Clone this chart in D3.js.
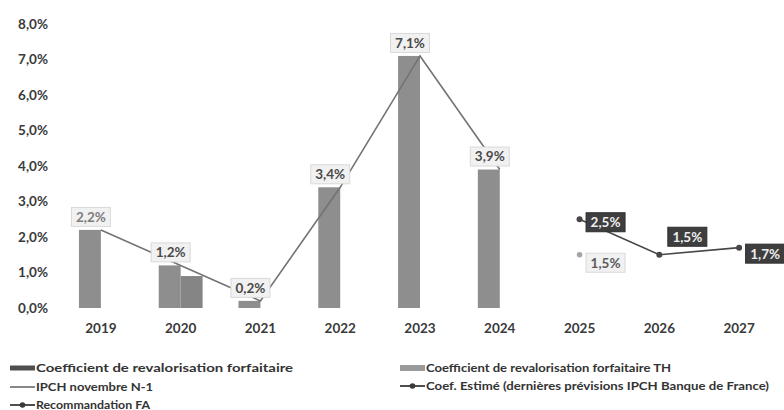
<!DOCTYPE html>
<html>
<head>
<meta charset="utf-8">
<script src="https://cdn.jsdelivr.net/npm/d3@7"></script>
<style>
  html, body { margin: 0; padding: 0; background: #fff; }
  svg { display: block; font-family: Lato, "Open Sans", sans-serif; }
</style>
</head>
<body>
<svg id="chart" width="784" height="410"></svg>
<script>
// Années affichées
const years = ["2019", "2020", "2021", "2022", "2023", "2024", "2025", "2026", "2027"];

// Coefficient de revalorisation forfaitaire (%)
const coefForfaitaire = [2.2, 1.2, 0.2, 3.4, 7.1, 3.9, null, null, null];
// Coefficient de revalorisation forfaitaire TH (%)
const coefTH = [null, 0.9, null, null, null, null, null, null, null];
// IPCH novembre N-1 (%)
const ipch = [2.2, 1.2, 0.2, 3.4, 7.1, 3.9, null, null, null];
// Coef. estimé (dernières prévisions IPCH Banque de France) (%)
const coefEstime = [null, null, null, null, null, null, 2.5, 1.5, 1.7];
// Recommandation FA (%)
const recoFA = [null, null, null, null, null, null, 1.5, null, null];

// Graduations de l'axe vertical (%)
const yTicks = [0, 1, 2, 3, 4, 5, 6, 7, 8];

const svg = d3.select("#chart");

const fr = d3.formatLocale({ decimal: ",", thousands: " ", grouping: [3], currency: ["", " €"] });
const pct = v => fr.format(".1f")(v) + "%";

const x = d3.scaleBand().domain(years).range([61, 779]).paddingInner(0.45).paddingOuter(0.225);
const xs = d3.scaleBand().domain(["forf", "th"]).range([0, x.bandwidth()]);
const y = d3.scaleLinear().domain([0, 8]).range([308, 24]);
const cx = yr => x(yr) + x.bandwidth() / 2;

// Axe vertical
const yAxis = svg.append("g")
  .attr("transform", "translate(52,0)")
  .call(d3.axisLeft(y).tickValues(yTicks).tickSize(0).tickPadding(4).tickFormat(pct));
yAxis.select(".domain").remove();
yAxis.selectAll("text")
  .attr("fill", "#3a3a3a").attr("font-size", 13.5).attr("font-weight", 700)
  .attr("font-family", "Lato, sans-serif");

// Axe horizontal
const xAxis = svg.append("g")
  .attr("transform", "translate(0,308)")
  .call(d3.axisBottom(x).tickSize(0).tickPadding(15));
xAxis.select(".domain").remove();
xAxis.selectAll(".tick").attr("transform", d => `translate(${cx(d)},0)`);
xAxis.selectAll("text")
  .attr("fill", "#3a3a3a").attr("font-size", 13.5).attr("font-weight", 700)
  .attr("font-family", "Lato, sans-serif");

// Barres
const barSeries = [
  { key: "forf", values: coefForfaitaire, color: "#8e8e8e" },
  { key: "th", values: coefTH, color: "#858585" }
];
barSeries.forEach(s => {
  svg.append("g").selectAll("rect")
    .data(years.map((yr, i) => ({ yr, v: s.values[i] })).filter(d => d.v != null))
    .join("rect")
    .attr("x", d => x(d.yr) + xs(s.key))
    .attr("width", xs.bandwidth())
    .attr("y", d => y(d.v))
    .attr("height", d => y(0) - y(d.v))
    .attr("fill", s.color);
});

// Courbe IPCH
const ipchPts = years.map((yr, i) => ({ yr, v: ipch[i] })).filter(d => d.v != null);
const line = d3.line().x(d => cx(d.yr)).y(d => y(d.v));
svg.append("path").datum(ipchPts)
  .attr("d", line).attr("fill", "none").attr("stroke", "#737373").attr("stroke-width", 1.6);

// Courbe coef. estimé
const estPts = years.map((yr, i) => ({ yr, v: coefEstime[i] })).filter(d => d.v != null);
svg.append("path").datum(estPts)
  .attr("d", line).attr("fill", "none").attr("stroke", "#474747").attr("stroke-width", 1.6);
svg.append("g").selectAll("circle").data(estPts).join("circle")
  .attr("cx", d => cx(d.yr)).attr("cy", d => y(d.v)).attr("r", 3).attr("fill", "#474747");

// Recommandation FA
const recoPts = years.map((yr, i) => ({ yr, v: recoFA[i] })).filter(d => d.v != null);
svg.append("g").selectAll("circle").data(recoPts).join("circle")
  .attr("cx", d => cx(d.yr)).attr("cy", d => y(d.v)).attr("r", 2.8).attr("fill", "#a5a5a5");

// Étiquettes de valeur
function label(px, py, text, dark, tone) {
  const g = svg.append("g");
  const w = 39, h = 19;
  g.append("rect")
    .attr("x", px - w / 2).attr("y", py - h / 2).attr("width", w).attr("height", h)
    .attr("fill", dark ? "#3e3e3e" : "#f1f1f1")
    .attr("stroke", dark ? "#2e2e2e" : "#d9d9d9").attr("stroke-width", 1);
  g.append("text")
    .attr("x", px).attr("y", py).attr("dy", "0.36em")
    .attr("text-anchor", "middle").attr("font-size", 13.5).attr("font-weight", 700)
    .attr("fill", dark ? "#eeeeee" : tone)
    .text(text);
}

ipchPts.forEach((d, i) => {
  label(cx(d.yr) - 10, y(d.v) - 13, pct(d.v), false, i === 0 ? "#7d7d7d" : "#4a4a4a");
});
// Décalages des étiquettes du coef. estimé (dx, dy en px)
const estOffsets = [[26, 3], [28, -18], [26, 6]];
estPts.forEach((d, i) => {
  label(cx(d.yr) + estOffsets[i][0], y(d.v) + estOffsets[i][1], pct(d.v), true);
});
recoPts.forEach(d => {
  label(cx(d.yr) + 26, y(d.v) + 8, pct(d.v), false, "#5a5a5a");
});

// Légende
const legend = svg.append("g").attr("font-family", "Lato, sans-serif").attr("font-weight", 700).attr("fill", "#333");
const legItems = [
  { type: "rect", color: "#4e4e4e", h: 5, x: 10, ty: 368, text: "Coefficient de revalorisation forfaitaire", len: 257, fs: 11.5 },
  { type: "line", color: "#3a3a3a", x: 10, ty: 387, text: "IPCH novembre N-1", len: 117, fs: 11.5 },
  { type: "marker", color: "#3a3a3a", x: 10, ty: 405, text: "Recommandation FA", len: 114, fs: 11.5 },
  { type: "rect", color: "#9a9a9a", h: 6, x: 400, ty: 368, text: "Coefficient de revalorisation forfaitaire TH", len: 245, fs: 10.5 },
  { type: "marker", color: "#3a3a3a", x: 400, ty: 386, text: "Coef. Estimé (dernières prévisions IPCH Banque de France)", len: 343, fs: 10.5 }
];
legItems.forEach(it => {
  const sw = 25;
  if (it.type === "rect") {
    legend.append("rect").attr("x", it.x).attr("y", it.ty - it.h / 2).attr("width", sw).attr("height", it.h).attr("fill", it.color);
  } else {
    legend.append("line").attr("x1", it.x).attr("x2", it.x + sw).attr("y1", it.ty).attr("y2", it.ty)
      .attr("stroke", it.color).attr("stroke-width", it.type === "marker" ? 1.8 : 1.2);
    if (it.type === "marker") {
      legend.append("circle").attr("cx", it.x + sw / 2).attr("cy", it.ty).attr("r", 2.8).attr("fill", it.color);
    }
  }
  legend.append("text")
    .attr("x", it.x + sw + 1).attr("y", it.ty).attr("dy", "0.35em")
    .attr("font-size", it.fs)
    .attr("textLength", it.len).attr("lengthAdjust", "spacingAndGlyphs")
    .text(it.text);
});
</script>
</body>
</html>
